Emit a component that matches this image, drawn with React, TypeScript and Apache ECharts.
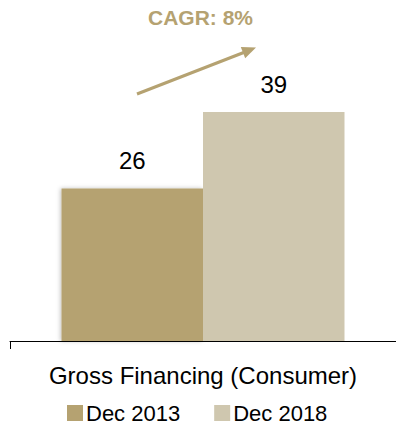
import React, { useEffect, useRef } from "react";
import * as echarts from "echarts";

const categories = ["Gross Financing (Consumer)"];
const seriesNames = ["Dec 2013", "Dec 2018"];
const values2013 = [26];
const values2018 = [39];
const cagrText = "CAGR: 8%";

const COL1 = "#B5A271";
const COL2 = "#CFC7AF";
const FONT = "Liberation Sans, Arial, sans-serif";

export default function App() {
  const ref = useRef<HTMLDivElement>(null);
  useEffect(() => {
    if (!ref.current) return;
    const chart = echarts.init(ref.current, null, { renderer: "svg" });
    chart.setOption({
      animation: false,
      backgroundColor: "#ffffff",
      textStyle: { fontFamily: FONT },
      grid: { left: 10, right: 0, top: 47.5, bottom: 86 },
      xAxis: {
        type: "category",
        data: categories,
        axisLine: { lineStyle: { color: "#000000", width: 1 } },
        axisTick: { show: true, length: 8, lineStyle: { color: "#000000" } },
        axisLabel: { fontSize: 24, color: "#000000", margin: 22, fontFamily: FONT },
      },
      yAxis: {
        type: "value",
        min: 0,
        max: 50,
        show: false,
        splitLine: { show: false },
      },
      legend: {
        data: seriesNames,
        left: 62,
        top: 397,
        itemWidth: 16,
        itemHeight: 16,
        itemGap: 34,
        icon: "rect",
        textStyle: {
          fontSize: 22,
          lineHeight: 22,
          color: "#000000",
          fontFamily: FONT,
          padding: [0, 0, 0, -2],
        },
      },
      series: [
        {
          name: seriesNames[0],
          type: "bar",
          data: values2013,
          barWidth: 141.5,
          barGap: "0%",
          itemStyle: {
            color: COL1,
            shadowColor: "rgba(0,0,0,0.25)",
            shadowBlur: 4,
            shadowOffsetX: -1,
          },
          label: {
            show: true,
            position: "top",
            distance: 16,
            fontSize: 24,
            color: "#000000",
            fontFamily: FONT,
          },
        },
        {
          name: seriesNames[1],
          type: "bar",
          data: values2018,
          barWidth: 141.5,
          itemStyle: { color: COL2 },
          label: {
            show: true,
            position: "top",
            distance: 16,
            fontSize: 24,
            color: "#000000",
            fontFamily: FONT,
          },
        },
      ],
      graphic: [
        {
          type: "text",
          left: 148,
          top: 7,
          style: {
            text: cagrText,
            fontSize: 21,
            fontWeight: "bold",
            fill: COL1,
            fontFamily: FONT,
          },
        },
        {
          type: "line",
          shape: { x1: 137, y1: 94, x2: 245, y2: 52 },
          style: { stroke: COL1, lineWidth: 3 },
        },
        {
          type: "polygon",
          shape: {
            points: [
              [256, 47.5],
              [245.2, 58.2],
              [240.8, 47.0],
            ],
          },
          style: { fill: COL1 },
        },
      ],
    });
    return () => chart.dispose();
  }, []);
  return (
    <div
      ref={ref}
      style={{ position: "fixed", left: 0, top: 0, width: 396, height: 427 }}
    />
  );
}
